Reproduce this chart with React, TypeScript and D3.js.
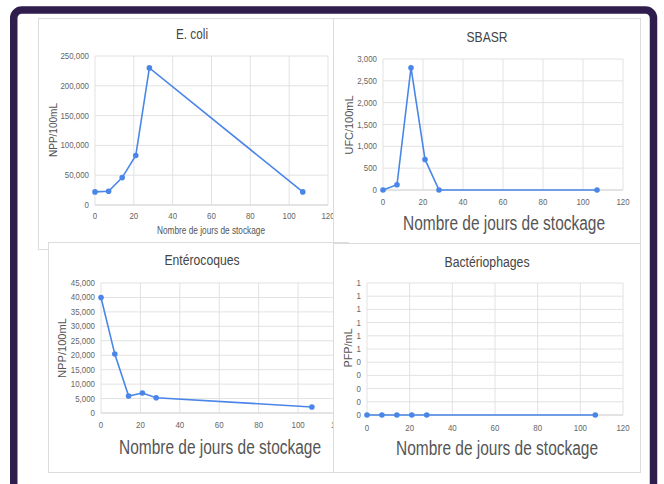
import React from "react";
import * as d3 from "d3";

const days = [0, 7, 14, 21, 28, 107];
const ecoliValues = [22000, 23000, 46000, 83000, 230000, 22000];
const sbasrValues = [0, 120, 2800, 700, 0, 0];
const enteroValues = [40000, 20400, 5900, 6900, 5300, 2100];
const phageValues = [0, 0, 0, 0, 0, 0];
const xTicks = [0, 20, 40, 60, 80, 100, 120];
const ecoliTicks = [0, 50000, 100000, 150000, 200000, 250000];
const sbasrTicks = [0, 500, 1000, 1500, 2000, 2500, 3000];
const enteroTicks = [0, 5000, 10000, 15000, 20000, 25000, 30000, 35000, 40000, 45000];
const phageTicks = [0, 0.1, 0.2, 0.3, 0.4, 0.5, 0.6, 0.7, 0.8, 0.9, 1];
const xLabel = "Nombre de jours de stockage";

const FONT = "'Liberation Sans', Arial, sans-serif";
const BLUE = "#4a86e8";

type Cfg = {
  title: string;
  ylabel: string;
  values: number[];
  yTicks: number[];
  fmt: (v: number) => string;
  panel: { x: number; y: number; w: number; h: number };
  plot: { l: number; r: number; t: number; b: number };
  titlePos: [number, number, number];
  xlab: [number, number, number, number];
  ylab: [number, number, number, number];
  xTickY: number;
};

const comma = d3.format(",");

const charts: Cfg[] = [
  {
    title: "E. coli", ylabel: "NPP/100mL", values: ecoliValues, yTicks: ecoliTicks, fmt: comma,
    panel: { x: 38, y: 18, w: 295, h: 231 }, plot: { l: 95, r: 328, t: 56, b: 205 },
    titlePos: [192, 39, 32], xlab: [211, 233.5, 108, 10], ylab: [57, 130, 54, 10], xTickY: 219,
  },
  {
    title: "SBASR", ylabel: "UFC/100mL", values: sbasrValues, yTicks: sbasrTicks, fmt: comma,
    panel: { x: 333, y: 18, w: 307, h: 227 }, plot: { l: 383, r: 623, t: 59, b: 190 },
    titlePos: [487, 42, 41], xlab: [504, 230, 202, 20], ylab: [353, 125, 59, 10.5], xTickY: 205,
  },
  {
    title: "Entérocoques", ylabel: "NPP/100mL", values: enteroValues, yTicks: enteroTicks, fmt: comma,
    panel: { x: 48, y: 242, w: 300, h: 230 }, plot: { l: 101, r: 337.5, t: 283, b: 413 },
    titlePos: [202, 265, 75], xlab: [220, 454, 202, 20], ylab: [66, 348, 60, 10.5], xTickY: 428,
  },
  {
    title: "Bactériophages", ylabel: "PFP/mL", values: phageValues, yTicks: phageTicks, fmt: (v) => String(Math.round(v)),
    panel: { x: 333, y: 243, w: 307, h: 229 }, plot: { l: 367, r: 623, t: 283, b: 415 },
    titlePos: [487, 267, 85], xlab: [497, 455, 202, 20], ylab: [352, 348, 39, 10.5], xTickY: 431,
  },
];

function Chart({ c }: { c: Cfg }) {
  const x = d3.scaleLinear().domain([0, 120]).range([c.plot.l, c.plot.r]);
  const yMax = c.yTicks[c.yTicks.length - 1];
  const y = d3.scaleLinear().domain([0, yMax]).range([c.plot.b, c.plot.t]);
  const line = d3.line<number>().x((_, i) => x(days[i])).y((v) => y(v));
  return (
    <g>
      <rect x={c.panel.x + 0.5} y={c.panel.y + 0.5} width={c.panel.w} height={c.panel.h} fill="#fff" stroke="#dcdcdc" />
      {xTicks.map((t) => (
        <line key={"gx" + t} x1={x(t)} x2={x(t)} y1={c.plot.t} y2={c.plot.b} stroke="#e2e2e2" strokeWidth={1} />
      ))}
      {c.yTicks.map((t, i) => (
        <line key={"gy" + i} x1={c.plot.l} x2={c.plot.r} y1={y(t)} y2={y(t)} stroke="#e2e2e2" strokeWidth={1} />
      ))}
      <line x1={c.plot.l} x2={c.plot.r} y1={c.plot.b} y2={c.plot.b} stroke="#d6d6d6" />
      {c.yTicks.map((t, i) => (
        <text key={"ty" + i} transform={`translate(${c.plot.l - 6},${y(t) + 3}) scale(0.9,1)`} textAnchor="end"
          fontSize={8.8} fill="#666" fontFamily={FONT}>{c.fmt(t)}</text>
      ))}
      {xTicks.map((t) => (
        <text key={"tx" + t} transform={`translate(${x(t)},${c.xTickY}) scale(0.9,1)`} textAnchor="middle"
          fontSize={8.8} fill="#666" fontFamily={FONT}>{t}</text>
      ))}
      <path d={line(c.values) || ""} fill="none" stroke={BLUE} strokeWidth={1.6} />
      {c.values.map((v, i) => (
        <circle key={"p" + i} cx={x(days[i])} cy={y(v)} r={2.8} fill={BLUE} />
      ))}
      <text x={c.titlePos[0]} y={c.titlePos[1]} textAnchor="middle" fontSize={14} fill="#444" fontFamily={FONT}
        textLength={c.titlePos[2]} lengthAdjust="spacingAndGlyphs">{c.title}</text>
      <text x={c.xlab[0]} y={c.xlab[1]} textAnchor="middle" fontSize={c.xlab[3]} fill="#555" fontFamily={FONT}
        textLength={c.xlab[2]} lengthAdjust="spacingAndGlyphs">{xLabel}</text>
      <text transform={`translate(${c.ylab[0]},${c.ylab[1]}) rotate(-90)`} textAnchor="middle" fontSize={c.ylab[3]}
        fill="#555" fontFamily={FONT} textLength={c.ylab[2]} lengthAdjust="spacingAndGlyphs">{c.ylabel}</text>
    </g>
  );
}

export default function App() {
  return (
    <svg width={664} height={484} style={{ position: "absolute", left: 0, top: 0 }}>
      <rect width={664} height={484} fill="#fff" />
      <rect x={13.75} y={10} width={639.75} height={520} rx={8} fill="#fff" stroke="#2f1d4e" strokeWidth={7.5} />
      {charts.map((c, i) => (
        <Chart key={i} c={c} />
      ))}
    </svg>
  );
}
